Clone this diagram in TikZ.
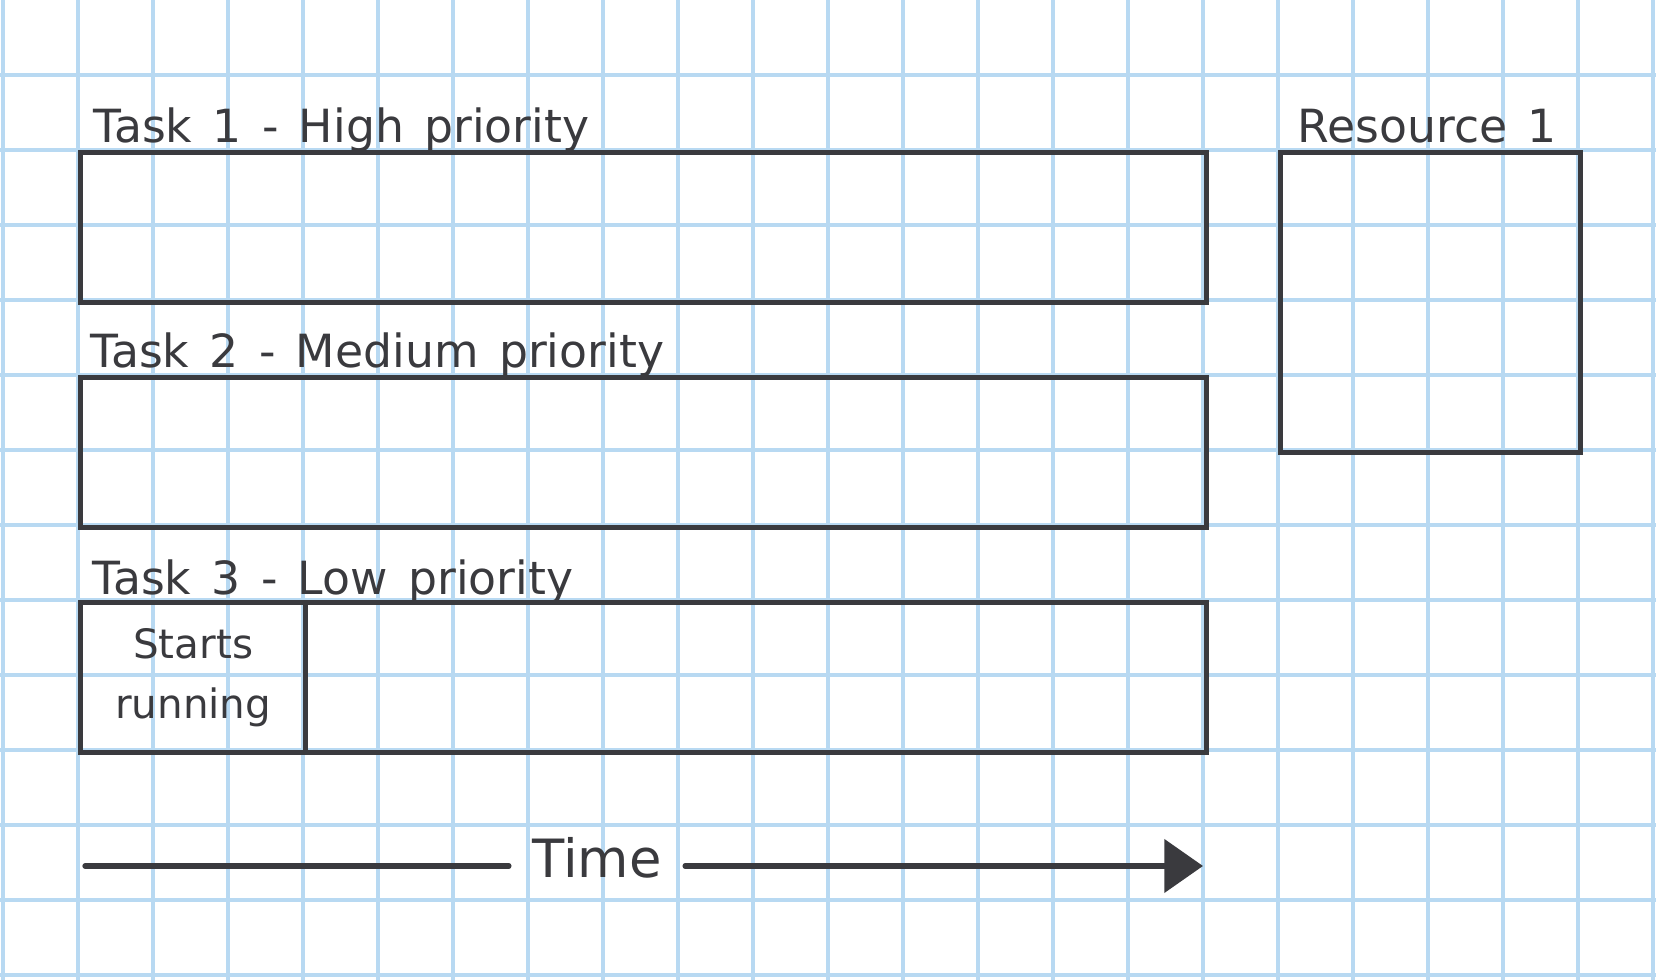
\documentclass[tikz,border=0pt]{standalone}
\usepackage{fontspec}
\setmainfont{DejaVu Sans}
\newfontfamily\handfont[WordSpace=1.4]{DejaVu Sans}
\usetikzlibrary{positioning,arrows.meta,calc}

\definecolor{gridblue}{RGB}{184,217,242}
\definecolor{ink}{RGB}{58,58,62}

\begin{document}
\begin{tikzpicture}[x=0.01cm,y=-0.01cm,
        gridline/.style={draw=gridblue, line width=1pt},
        taskbox/.style={rectangle, draw=ink, line width=1.5pt, inner sep=0pt,
                        minimum width=11.25cm, minimum height=1.5cm, anchor=north west},
        resbox/.style={taskbox, minimum width=3cm, minimum height=3cm},
        hand/.style={text=ink, inner sep=0pt, anchor=base west,
                     font=\handfont\fontsize{13}{16}\selectfont},
        timeline/.style={draw=ink, line width=1.5pt, line cap=round}]
    \useasboundingbox (0,0) rectangle (1656,980);
    \fill[white] (0,0) rectangle (1656,980);

    % squared paper
    \foreach \gx in {3,78,...,1656}
        \draw[gridline] (\gx,0) -- (\gx,980);
    \foreach \gy in {75,150,...,980}
        \draw[gridline] (0,\gy) -- (1656,\gy);

    % tasks
    \node[taskbox] (task1) at (78,150) {};
    \node[taskbox] (task2) at (78,375) {};
    \node[taskbox] (task3) at (78,600) {};
    \node[taskbox, minimum width=2.25cm, align=center, text=ink,
          font=\fontsize{11.5}{17}\selectfont] (t3start) at (task3.north west) {Starts\\running};

    \node[hand] (lbl1) at ([xshift=0.15cm, yshift=0.07cm]task1.north west) {Task 1 - High priority};
    \node[hand] (lbl2) at ([xshift=0.12cm, yshift=0.07cm]task2.north west) {Task 2 - Medium priority};
    \node[hand] (lbl3) at ([xshift=0.14cm, yshift=0.05cm]task3.north west) {Task 3 - Low priority};

    % resource
    \node[resbox] (res1) at (1278,150) {};
    \node[hand] (lblres) at ([xshift=0.19cm, yshift=0.07cm]res1.north west) {Resource 1};

    % time axis
    \coordinate (tstart) at (85,866);
    \coordinate (tend) at (1203,866);
    \node[text=ink, inner xsep=6.5pt, font=\fontsize{15}{18}\selectfont] (time) at (597,858) {Time};
    \draw[timeline] (tstart) -- (tstart -| time.west);
    \draw[timeline, -{Triangle[length=11pt,width=15pt]}] (tstart -| time.east) -- (tend);
\end{tikzpicture}
\end{document}
